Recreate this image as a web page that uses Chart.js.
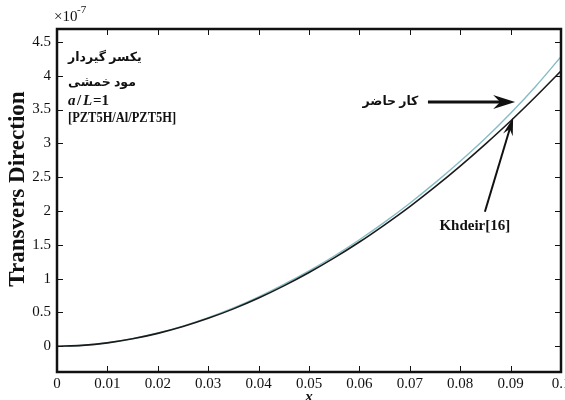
<!DOCTYPE html>
<html>
<head>
<meta charset="utf-8">
<script src="https://cdn.jsdelivr.net/npm/chart.js@4"></script>
<style>
  html, body { margin: 0; padding: 0; background: #fff; }
  #wrap { width: 565px; height: 400px; }
</style>
</head>
<body>
<div id="wrap"><canvas id="c"></canvas></div>
<script>
// x positions along the beam
const xs = [0, 0.005, 0.01, 0.015, 0.02, 0.025, 0.03, 0.035, 0.04, 0.045, 0.05,
  0.055, 0.06, 0.065, 0.07, 0.075, 0.08, 0.085, 0.09, 0.095, 0.1];
// present work (x1e-7)
const presentWork = [0, 0.015, 0.053, 0.114, 0.196, 0.299, 0.423, 0.567, 0.731, 0.915, 1.115,
  1.335, 1.575, 1.835, 2.115, 2.415, 2.735, 3.075, 3.445, 3.845, 4.28];
// Khdeir [16] (x1e-7)
const khdeir = [0, 0.014, 0.051, 0.111, 0.191, 0.292, 0.413, 0.553, 0.713, 0.893, 1.091,
  1.307, 1.541, 1.796, 2.066, 2.356, 2.664, 2.989, 3.33, 3.692, 4.07];

const xTicks = [0, 0.01, 0.02, 0.03, 0.04, 0.05, 0.06, 0.07, 0.08, 0.09, 0.1];
const xTickLabels = ['0', '0.01', '0.02', '0.03', '0.04', '0.05', '0.06', '0.07', '0.08', '0.09', '0.1'];
const yTicks = [0, 0.5, 1, 1.5, 2, 2.5, 3, 3.5, 4, 4.5];
const yTickLabels = ['0', '0.5', '1', '1.5', '2', '2.5', '3', '3.5', '4', '4.5'];

const serif = '"Liberation Serif", "Times New Roman", "DejaVu Serif", serif';
const mixed = '"Liberation Serif", "DejaVu Sans", serif';

// box, inward ticks, notes and arrows
const decor = {
  id: 'decor',
  afterDraw(chart) {
    const { ctx, chartArea: a, scales: { x, y } } = chart;
    ctx.save();
    ctx.strokeStyle = '#111';
    ctx.lineWidth = 1;
    xTicks.forEach(v => {
      const px = Math.round(x.getPixelForValue(v)) + 0.5;
      ctx.beginPath();
      ctx.moveTo(px, a.bottom); ctx.lineTo(px, a.bottom - 6);
      ctx.moveTo(px, a.top); ctx.lineTo(px, a.top + 6);
      ctx.stroke();
    });
    yTicks.forEach(v => {
      const py = Math.round(y.getPixelForValue(v)) + 0.5;
      ctx.beginPath();
      ctx.moveTo(a.left, py); ctx.lineTo(a.left + 6, py);
      ctx.moveTo(a.right, py); ctx.lineTo(a.right - 6, py);
      ctx.stroke();
    });
    ctx.lineWidth = 2.5;
    ctx.strokeRect(a.left, a.top, a.right - a.left, a.bottom - a.top);

    ctx.fillStyle = '#111';
    // exponent
    ctx.font = '15px ' + serif;
    ctx.textBaseline = 'alphabetic';
    ctx.textAlign = 'left';
    ctx.fillText('\u00d710', 54, 21);
    ctx.font = '11px ' + serif;
    ctx.fillText('-7', 77, 13);

    // axis titles
    ctx.save();
    ctx.translate(18, 189);
    ctx.rotate(-Math.PI / 2);
    ctx.textAlign = 'center';
    ctx.textBaseline = 'middle';
    ctx.font = 'bold 23px ' + serif;
    ctx.fillText('Transvers Direction', 0, 0);
    ctx.restore();
    ctx.font = 'italic bold 15px ' + serif;
    ctx.textAlign = 'center';
    ctx.textBaseline = 'top';
    ctx.fillText('x', (a.left + a.right) / 2, 390);

    // notes box text
    ctx.textAlign = 'left';
    ctx.textBaseline = 'middle';
    ctx.font = 'bold 12.5px ' + mixed;
    ctx.fillText('یکسر گیردار', 68, 58);
    ctx.fillText('مود خمشی', 68, 83);
    ctx.font = 'bold italic 15px ' + serif;
    ctx.fillText('a', 68, 101);
    ctx.font = 'bold 15px ' + serif;
    ctx.fillText('/', 77, 101);
    ctx.font = 'bold italic 15px ' + serif;
    ctx.fillText('L', 83, 101);
    ctx.font = 'bold 15px ' + serif;
    ctx.fillText('=1', 93, 101);
    ctx.save();
    ctx.translate(68, 118);
    ctx.scale(0.86, 1);
    ctx.font = 'bold 14.5px ' + serif;
    ctx.fillText('[PZT5H/Al/PZT5H]', 0, 0);
    ctx.restore();

    // arrow to present work
    const ax0 = x.getPixelForValue(0.0736), ay = y.getPixelForValue(3.61);
    const ax1 = x.getPixelForValue(0.0909);
    ctx.strokeStyle = '#111';
    ctx.lineWidth = 3;
    ctx.beginPath();
    ctx.moveTo(ax0, ay); ctx.lineTo(ax1 - 14, ay);
    ctx.stroke();
    ctx.beginPath();
    ctx.moveTo(ax1, ay);
    ctx.lineTo(ax1 - 22, ay - 7);
    ctx.lineTo(ax1 - 15, ay);
    ctx.lineTo(ax1 - 22, ay + 7);
    ctx.closePath();
    ctx.fill();
    ctx.font = 'bold 12.5px ' + mixed;
    ctx.textAlign = 'right';
    ctx.fillText('کار حاضر', x.getPixelForValue(0.0717), ay);

    // arrow to Khdeir
    const bx0 = x.getPixelForValue(0.0849), by0 = y.getPixelForValue(1.99);
    const bx1 = x.getPixelForValue(0.0905), by1 = y.getPixelForValue(3.38);
    const ang = Math.atan2(by1 - by0, bx1 - bx0);
    ctx.lineWidth = 2;
    ctx.beginPath();
    ctx.moveTo(bx0, by0);
    ctx.lineTo(bx1 - 10 * Math.cos(ang), by1 - 10 * Math.sin(ang));
    ctx.stroke();
    ctx.beginPath();
    ctx.moveTo(bx1, by1);
    ctx.lineTo(bx1 - 18 * Math.cos(ang) + 5 * Math.sin(ang), by1 - 18 * Math.sin(ang) - 5 * Math.cos(ang));
    ctx.lineTo(bx1 - 12 * Math.cos(ang), by1 - 12 * Math.sin(ang));
    ctx.lineTo(bx1 - 18 * Math.cos(ang) - 5 * Math.sin(ang), by1 - 18 * Math.sin(ang) + 5 * Math.cos(ang));
    ctx.closePath();
    ctx.fill();
    ctx.font = 'bold 15px ' + serif;
    ctx.textAlign = 'center';
    ctx.fillText('Khdeir[16]', x.getPixelForValue(0.0829), y.getPixelForValue(1.77));
    ctx.restore();
  }
};

new Chart(document.getElementById('c'), {
  type: 'line',
  data: {
    datasets: [
      {
        label: 'Khdeir[16]',
        data: xs.map((v, i) => ({ x: v, y: khdeir[i] })),
        borderColor: '#1a1a1a',
        borderWidth: 1.6,
        pointRadius: 0,
        cubicInterpolationMode: 'monotone'
      },
      {
        label: 'Present work',
        data: xs.map((v, i) => ({ x: v, y: presentWork[i] })),
        borderColor: '#86bcc4',
        borderWidth: 1.4,
        pointRadius: 0,
        cubicInterpolationMode: 'monotone'
      }
    ]
  },
  options: {
    responsive: true,
    maintainAspectRatio: false,
    animation: false,
    layout: { padding: { top: 29, right: 4, left: 0, bottom: 0 } },
    plugins: {
      legend: { display: false },
      tooltip: { enabled: false }
    },
    scales: {
      x: {
        type: 'linear',
        min: 0,
        max: 0.1,
        grid: { display: false, tickLength: 0 },
        border: { display: false },
        afterBuildTicks: s => { s.ticks = xTicks.map(v => ({ value: v })); },
        afterFit: s => { s.height = 28; s.paddingLeft = 0; s.paddingRight = 0; },
        ticks: {
          padding: 3,
          maxRotation: 0,
          autoSkip: false,
          color: '#111',
          font: { family: serif, size: 15 },
          callback: v => xTickLabels[xTicks.indexOf(v)]
        }
      },
      y: {
        min: -0.38,
        max: 4.69,
        grid: { display: false, tickLength: 0 },
        border: { display: false },
        afterBuildTicks: s => { s.ticks = yTicks.map(v => ({ value: v })); },
        afterFit: s => { s.width = 57; s.paddingTop = 0; s.paddingBottom = 0; },
        ticks: {
          padding: 6,
          autoSkip: false,
          color: '#111',
          font: { family: serif, size: 15 },
          callback: v => yTickLabels[yTicks.indexOf(v)]
        }
      }
    }
  },
  plugins: [decor]
});
</script>
</body>
</html>
